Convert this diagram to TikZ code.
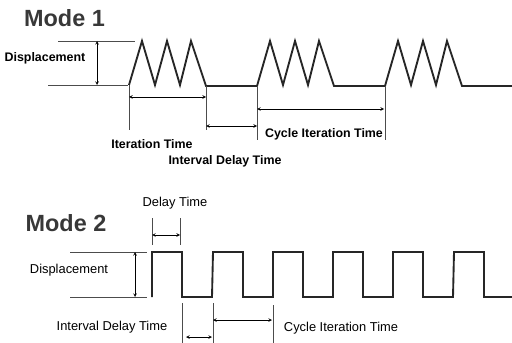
\documentclass[tikz,border=0pt]{standalone}
\usepackage{fontspec}
\setmainfont{Liberation Sans}

\tikzset{
  wave/.style={line width=1.6pt, black!85},
  refline/.style={thin, black!70},
  dimline/.style={<->, thin},
  lbl/.style={font=\fontsize{11}{13}\selectfont, inner sep=0pt},
  lblbold/.style={font=\bfseries\fontsize{10.6}{13}\selectfont, inner sep=0pt},
  modetitle/.style={font=\bfseries\fontsize{20}{24}\selectfont, black!78, inner sep=0pt}
}

\begin{document}
\begin{tikzpicture}[x=0.03cm, y=-0.03cm, >=stealth]
            \useasboundingbox (0,0) rectangle (512,343);

            % Mode 1
            \node[modetitle] (m1) at (64.5,18.5) {Mode 1};

            \coordinate (T1) at (129,85);
            \coordinate (T2) at (206,86);
            \coordinate (T3) at (257,86);
            \coordinate (T4) at (385,86);

            \draw[wave] (T1) \foreach \s in {129,257,385} {
                -- (\s+13,41) -- (\s+26,85) -- (\s+38,41) -- (\s+51,85)
                -- (\s+62,41) -- (\s+77,86) -- (\s+128,86)};

            \coordinate (D1a) at (58,41);  \coordinate (D1b) at (135,41);
            \coordinate (D1c) at (48,85);  \coordinate (D1d) at (128,85);
            \draw[refline] (D1a) -- (D1b);
            \draw[refline] (D1c) -- (D1d);
            \draw[dimline] (97,41) coordinate (V1a) -- (97,85) coordinate (V1b);
            \node[lblbold] (disp1) at (45,58) {Displacement};

            % Hilfslinien
            \draw[refline] (T1) -- ++(0,45) coordinate (E1);
            \draw[refline] (T2) -- ++(0,44) coordinate (E2);
            \draw[refline] (T3) -- ++(0,54) coordinate (E3);
            \draw[refline] (T4) -- ++(0,54) coordinate (E4);

            \draw[dimline] (129,97) coordinate (A1) -- (206,97) coordinate (A2);
            \draw[dimline] (206,126) coordinate (B1) -- (257,126) coordinate (B2);
            \draw[dimline] (257,109) coordinate (C1) -- (384,109) coordinate (C2);

            \node[lblbold] (it1) at (152,144) {Iteration Time};
            \node[lblbold] (idt1) at (225,161) {Interval Delay Time};
            \node[lblbold] (cit1) at (324,134) {Cycle Iteration Time};

            % Mode 2
            \node[modetitle] (m2) at (66,223) {Mode 2};

            \coordinate (S0) at (152,297);
            \draw[wave] (S0) \foreach \u in {152,213,273,333,393,454} {
                -- (\u,252) -- (\u+30,252) -- (\u+30,297) -- (\u+60,297)};

            \coordinate (D2a) at (70,252);  \coordinate (D2b) at (147,252);
            \coordinate (D2c) at (70,297);  \coordinate (D2d) at (147,297);
            \draw[refline] (D2a) -- (D2b);
            \draw[refline] (D2c) -- (D2d);
            \draw[dimline] (135,252) coordinate (V2a) -- (135,297) coordinate (V2b);
            \node[lbl] (disp2) at (69,270) {Displacement};

            \draw[refline] (152,218) coordinate (F1) -- (152,245);
            \draw[refline] (180,218) coordinate (F2) -- (180,245);
            \draw[dimline] (152,235) coordinate (G1) -- (180,235) coordinate (G2);
            \node[lbl] (dt2) at (175,203) {Delay Time};

            \draw[refline] (182,303) coordinate (H1) -- (182,343);
            \draw[refline] (213,303) coordinate (H2) -- (213,343);
            \draw[refline] (273,305) coordinate (H3) -- (273,343);
            \draw[dimline] (186,337) coordinate (J1) -- (212,337) coordinate (J2);
            \draw[dimline] (213,320) coordinate (K1) -- (272,320) coordinate (K2);

            \node[lbl] (idt2) at (112,327) {Interval Delay Time};
            \node[lbl] (cit2) at (341,328) {Cycle Iteration Time};
        \end{tikzpicture}
\end{document}
